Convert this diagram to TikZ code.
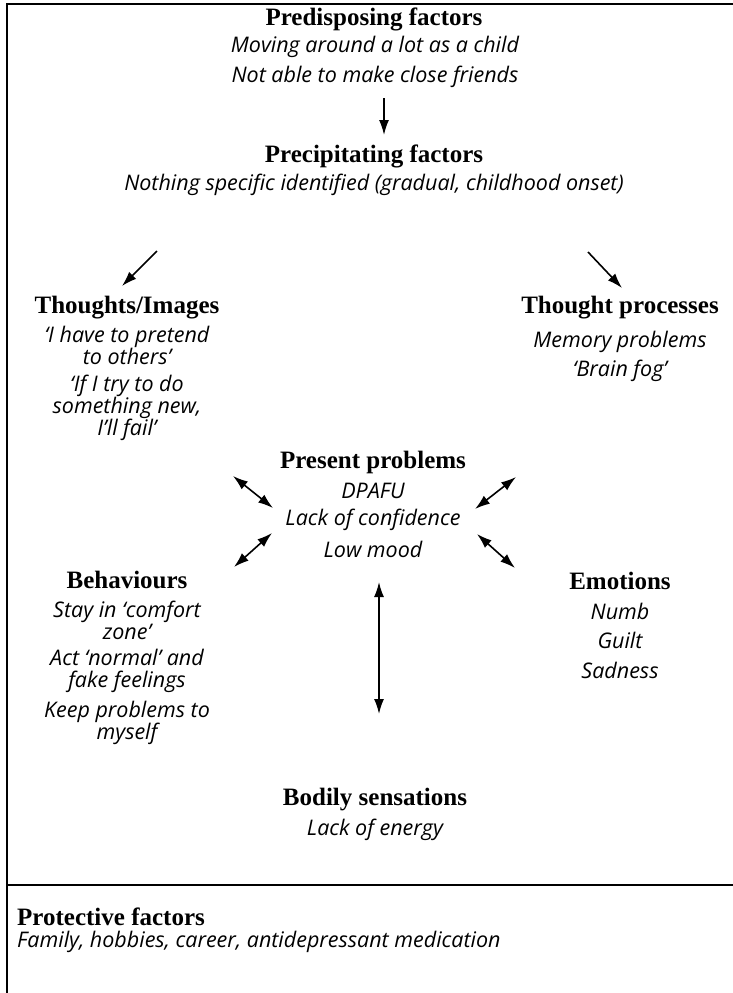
\documentclass[tikz,border=0pt]{standalone}
\usepackage{fontspec}
\setmainfont{Liberation Serif}
\newfontfamily\handfont{Open Sans}
\usetikzlibrary{arrows.meta}
\tikzset{
  ar/.style={-{Latex[length=15pt,width=10pt]},line width=1.6pt},
  dar/.style={{Latex[length=15pt,width=10pt]}-{Latex[length=15pt,width=10pt]},line width=1.6pt},
  hd/.style={font=\fontsize{25}{28}\selectfont\bfseries,inner sep=0pt},
  tx/.style={font=\fontsize{21.5}{22}\selectfont\handfont\itshape,align=center,inner sep=0pt},
  frame/.style={line width=1.6pt}
}
\begin{document}
\begin{tikzpicture}[x=1pt,y=-1pt]
\useasboundingbox (0,0) rectangle (733,993);
% frame
\draw[frame] (733,4) -- (7,4) -- (7,993);
\draw[frame] (7,885) -- (733,885);
% top
\node[hd] (pred) at (374,19) {Predisposing factors};
\node[tx] (pred1) at (375,47) {Moving around a lot as a child};
\node[tx] (pred2) at (375,77) {Not able to make close friends};
\node[hd] (prec) at (374,156) {Precipitating factors};
\node[tx] (prec1) at (374,185) {Nothing specific identified (gradual, childhood onset)};
% sides
\node[hd] (thim) at (127,308) {Thoughts/Images};
\node[tx] (thim1) at (127,345) {‘I have to pretend\\to others’};
\node[tx] (thim2) at (127,408) {‘If I try to do\\something new,\\I’ll fail’};
\node[hd] (thpr) at (620,308) {Thought processes};
\node[tx] (thpr1) at (620,342) {Memory problems};
\node[tx] (thpr2) at (620,371) {‘Brain fog’};
% centre
\node[hd] (pres) at (373,462) {Present problems};
\node[tx] (pres1) at (373,491) {DPAFU};
\node[tx] (pres2) at (373,520) {Lack of confidence};
\node[tx] (pres3) at (373,549) {Low mood};
\node[hd] (beh) at (127,580) {Behaviours};
\node[tx] (beh1) at (127,620) {Stay in ‘comfort\\zone’};
\node[tx] (beh2) at (127,671) {Act ‘normal’ and\\fake feelings};
\node[tx] (beh3) at (127,723) {Keep problems to\\myself};
\node[hd] (emo) at (620,581) {Emotions};
\node[tx] (emo1) at (620,611) {Numb};
\node[tx] (emo2) at (620,640) {Guilt};
\node[tx] (emo3) at (620,670) {Sadness};
\node[hd] (body) at (375,800) {Bodily sensations};
\node[tx] (body1) at (375,830) {Lack of energy};
% protective
\node[hd,anchor=west] (prot) at (17,917) {Protective factors};
\node[tx,anchor=west] (prot1) at (17,942) {Family, hobbies, career, antidepressant medication};
% arrows
\coordinate (a1) at (384,98);  \coordinate (b1) at (384,135);
\coordinate (a2) at (157,251); \coordinate (b2) at (122,286);
\coordinate (a3) at (588,252); \coordinate (b3) at (622,288);
\coordinate (a4) at (233,476); \coordinate (b4) at (273,508);
\coordinate (a5) at (516,477); \coordinate (b5) at (475,509);
\coordinate (a6) at (234,567); \coordinate (b6) at (272,533);
\coordinate (a7) at (515,568); \coordinate (b7) at (477,534);
\coordinate (a8) at (379,582); \coordinate (b8) at (379,714);
\draw[ar] (a1) -- (b1);
\draw[ar] (a2) -- (b2);
\draw[ar] (a3) -- (b3);
\foreach \i in {4,...,8} \draw[dar] (a\i) -- (b\i);
\end{tikzpicture}
\end{document}
